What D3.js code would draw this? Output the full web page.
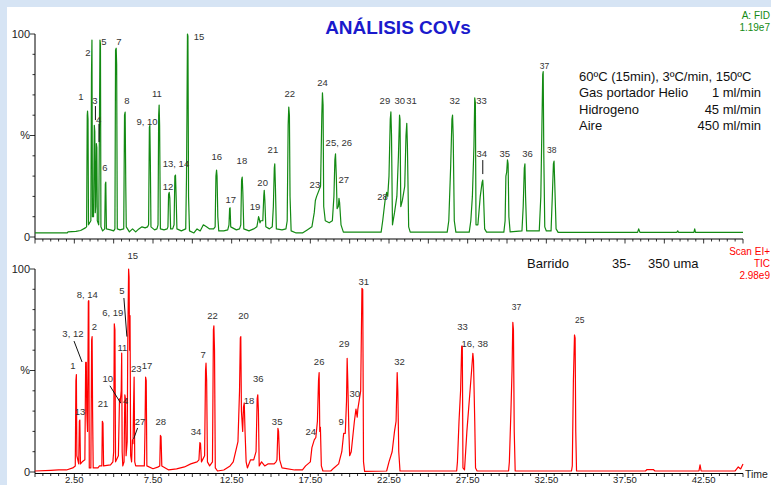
<!DOCTYPE html>
<html><head><meta charset="utf-8">
<script src="https://cdn.jsdelivr.net/npm/d3@7"></script>
<style>
html,body{margin:0;padding:0;background:#d6e4f4;}
svg{display:block;font-family:"Liberation Sans",Arial,sans-serif;}
</style></head>
<body>
<svg id="c" width="771" height="485"></svg>
<script>
// ---- DATA ----
const xTickLabels = ["2.50","7.50","12.50","17.50","22.50","27.50","32.50","37.50","42.50"];
const xTickLabelValues = [2.5,7.5,12.5,17.5,22.5,27.5,32.5,37.5,42.5];

// FID trace [time (min), %]
const fidTrace = [
[0,2],[2.05,2],[2.1,2.5],[2.6,2.8],[2.9,3.2],[3.2,4.5],
[3.28,5],[3.32,60],[3.34,62],[3.37,58],[3.40,6],
[3.55,8],[3.59,80],[3.62,97],[3.65,10],
[3.72,10],[3.77,55],[3.80,52],[3.83,12],
[3.86,15],[3.90,46],[3.93,44],[3.96,8],
[4.05,6],[4.10,60],[4.13,97],[4.16,95],[4.19,5],
[4.3,3],[4.43,4],[4.47,26],[4.50,27],[4.54,4],
[4.8,3.5],[5.0,3],
[5.08,4],[5.12,92],[5.16,93],[5.19,85],[5.23,4],
[5.4,3.5],[5.64,4],[5.69,60],[5.73,61.5],[5.77,25],[5.80,5],
[6.0,2.5],[6.2,4],[6.4,2.5],[6.6,4],[6.8,5],[7.0,4.5],[7.15,5],
[7.22,6],[7.27,54],[7.30,55],[7.33,38],[7.37,5],
[7.6,3.5],[7.75,4],[7.82,6],[7.86,60],[7.89,65],[7.92,55],[7.97,4],
[8.2,3.5],[8.4,4],[8.45,5],[8.49,21],[8.53,22],[8.57,19],[8.62,4],
[8.75,4],[8.84,6],[8.89,30],[8.93,30.5],[8.97,20],[9.02,4],
[9.3,3],[9.58,4],[9.63,30],[9.66,62],[9.69,100],[9.72,99],[9.76,20],[9.82,3],
[10.1,2],[10.3,4],[10.5,3],[10.7,6],[10.9,5],[11.1,4],[11.35,4],
[11.45,5],[11.50,30],[11.54,33],[11.57,30],[11.62,10],[11.68,3],
[12.0,3],[12.25,3.5],[12.33,6],[12.37,14],[12.40,14.4],[12.44,5],
[12.8,3.5],[13.0,4],[13.08,6],[13.13,28],[13.17,29.5],[13.21,22],[13.27,4],
[13.6,3],[13.9,4],[14.1,5],[14.17,8],[14.21,10],[14.25,9],[14.3,7],[14.35,8],
[14.48,8],[14.54,20],[14.57,23],[14.61,18],[14.67,5],
[14.9,4],[15.08,5],[15.15,15],[15.21,34],[15.24,36],[15.28,25],[15.34,4],
[15.7,3.5],[15.95,4],[16.03,8],[16.09,55],[16.13,64],[16.17,60],[16.21,20],[16.28,3],
[16.6,2],[17.0,2],[17.3,3.5],[17.6,5],[17.75,12],[17.82,18],[17.9,20],
[18.15,25],[18.23,60],[18.27,71],[18.31,65],[18.35,15],[18.45,8],[18.7,7],[18.9,8],
[19.0,20],[19.06,38],[19.10,41],[19.15,30],[19.2,14],
[19.28,15],[19.32,19],[19.36,17],[19.45,6],[19.6,2.4],
[22.0,2.4],[22.1,8],[22.25,18],[22.35,22],[22.42,20],
[22.5,30],[22.58,58],[22.62,61.6],[22.66,50],[22.72,6],
[22.85,12],[23.0,20],[23.1,40],[23.17,60],[23.2,58],[23.25,15],
[23.35,18],[23.5,25],[23.58,50],[23.63,56],[23.67,45],[23.75,5],[23.85,2.4],
[26.2,2.4],[26.3,8],[26.42,35],[26.5,58],[26.54,60],[26.58,50],[26.65,8],[26.75,2.4],
[27.6,2.4],[27.7,8],[27.8,20],[27.9,45],[27.95,68.5],[27.99,66],[28.03,6],[28.15,6],
[28.3,20],[28.42,27],[28.46,28],[28.5,22],[28.58,4],[28.7,2.4],
[29.8,2.4],[29.88,8],[29.93,30],[29.98,32],[30.03,38],[30.07,36],[30.12,10],[30.2,2.5],
[30.95,3],[31.03,15],[31.10,34],[31.14,36],[31.18,20],[31.25,3],
[32.05,3],[32.15,20],[32.22,55],[32.27,80],[32.30,81.5],[32.34,40],[32.4,5],[32.5,3],
[32.8,3],[32.88,20],[32.95,36],[32.99,37.4],[33.04,25],[33.12,4],[33.25,2.3],
[38.3,2.3],[38.37,4],[38.45,2.3],[40.8,2.3],[40.85,3],[40.9,2.3],
[41.88,2.3],[41.93,4],[41.98,2.3],[45,2.3]
];

// TIC trace [time (min), %]
const ticTrace = [
[0,0.5],[1.0,0.8],[1.5,1],[2.0,1],[2.4,2],[2.56,3],
[2.60,45],[2.63,48],[2.66,8],[2.78,4],[2.82,25],[2.85,25.6],[2.89,4],[3.0,5],
[3.17,6],[3.22,54],[3.26,54],[3.29,30],[3.34,20],[3.39,84],[3.42,84.4],[3.45,2],
[3.55,2],[3.60,65],[3.63,66.7],[3.66,30],[3.70,2],
[4.0,2],[4.1,3],[4.25,3],[4.28,25],[4.32,24],[4.36,3],
[4.8,3.5],[4.95,5],[5.0,10],[5.04,73],[5.08,70],[5.12,5],
[5.3,8],[5.37,36],[5.41,34],[5.48,40],[5.51,58.6],[5.54,10],[5.58,3],
[5.66,5],[5.71,38],[5.75,36],[5.79,8],
[5.86,15],[5.90,66],[5.95,100],[5.98,96],[6.01,60],[6.04,77],[6.08,8],
[6.14,5],[6.19,15.8],[6.23,14],[6.26,30],[6.30,46.8],[6.34,5],[6.4,3],
[6.95,3],[6.99,20],[7.03,46.8],[7.07,45],[7.11,3],
[7.5,1.6],[7.8,2.4],[7.93,3],[7.97,18],[8.01,17.5],[8.06,3],
[8.5,1],[9.0,1.5],[9.5,2.5],[9.9,4],[10.3,5],
[10.42,6],[10.48,14.5],[10.52,14],[10.58,5],
[10.78,8],[10.84,50],[10.87,53.6],[10.91,45],[10.96,5],[11.1,3],
[11.28,5],[11.34,70],[11.37,72],[11.41,60],[11.46,2],
[11.6,0.5],[12.0,1],[12.4,3],[12.6,5],
[12.9,15],[13.0,40],[13.05,66],[13.08,66.7],[13.12,30],
[13.2,20],[13.25,32],[13.30,34],[13.35,20],[13.42,5],[13.5,2],[13.7,6],[13.9,6],
[14.05,10],[14.12,36],[14.16,38],[14.2,30],[14.25,3],
[14.4,5],[14.6,3],[14.8,4],[15.2,4],[15.32,5],
[15.38,6],[15.44,21.5],[15.48,20],[15.55,6],[15.7,2],
[16.5,1],[17.0,1],[17.2,3],[17.5,5],[17.6,12],[17.75,15.8],[17.85,17],
[17.95,25],[18.02,45],[18.06,49],[18.10,20],[18.14,22],[18.2,3],[18.3,0.5],
[18.8,0.5],[19.0,2],[19.3,4],[19.5,10],[19.62,19],[19.72,19],
[19.80,35],[19.84,56],[19.88,45],[19.95,20],[20.0,8],[20.1,10],
[20.3,25],[20.4,31],[20.48,27],[20.52,31],
[20.7,40],[20.78,90.5],[20.83,90],[20.88,5],[20.95,0.3],
[22.35,0.5],[22.5,5],[22.7,10],[22.85,20],
[22.95,25],[23.02,49],[23.06,40],[23.12,10],[23.2,0.5],
[26.8,0.5],[26.85,5],[26.95,25],[27.05,40],[27.12,62],[27.16,62],[27.2,2],[27.3,1],
[27.45,20],[27.6,35],[27.75,50],[27.83,58.5],[27.87,55],[27.95,25],[28.0,2],[28.1,0.5],
[30.1,0.5],[30.15,5],[30.25,30],[30.32,50],[30.37,73.7],[30.41,70],[30.46,20],[30.52,0.5],
[34.1,0.5],[34.15,3],[34.22,45],[34.29,67.5],[34.33,66],[34.37,20],[34.42,0.5],
[38.8,0.5],[38.9,1.2],[39.3,1.2],[39.4,0.5],[42.2,0.5],[42.27,3.5],[42.34,0.5],
[44.5,0.5],[44.7,2.5],[44.85,1.5],[45,4]
];

// peak labels [text, time, %]  (label centre)
const fidLabels = [
["1",2.92,69],["2",3.37,91],["3",3.81,67],["4",4.05,58],["5",4.38,96],["6",4.45,34],
["7",5.34,96],["8",5.84,67],["9, 10",7.12,56.7],["11",7.75,70.4],["12",8.45,25],
["13, 14",8.96,36],["15",10.42,98.5],["16",11.56,39.4],["17",12.45,18.2],["18",13.15,37.4],
["19",13.98,14.8],["20",14.47,27],["21",15.12,42.9],["22",16.2,70.4],["23",17.79,26],
["24",18.28,75.9],["25, 26",19.31,46.3],["27",19.63,28],["28",22.09,19.7],["29",22.24,67],
["30",23.19,67],["31",23.93,67],["32",26.68,67],["33",28.38,67],["34",28.4,40.9],
["35",29.86,40.9],["36",31.3,40.9]
];
const fidLabelsSmall = [["37",32.38,84.2],["38",32.85,42.9]];
const fidLeaders = [[3.84,64.5,3.84,57.6],[4.07,55.7,4.07,46.8],[28.46,37.9,28.46,31]];

const ticLabels = [
["1",2.41,52.2],["13",2.86,29.7],["3, 12",2.41,68],["8, 14",3.32,87.2],["2",3.77,71.4],
["21",4.32,33.5],["6, 19",4.94,78.5],["10",4.62,46],["11",5.55,61],["4",5.76,35],
["5",5.53,89.2],["15",6.21,106.5],["27",6.67,24.6],["23",6.44,50.7],["17",7.12,52.2],
["28",8.0,24.6],["34",10.23,19.7],["7",10.69,57.6],["22",11.29,76.8],["20",13.26,76.8],
["18",13.6,35],["36",14.19,45.8],["35",15.39,24.6],["24",17.53,19.7],["26",18.06,54.2],
["9",19.46,24.6],["29",19.65,63],["30",20.33,38.4],["31",20.9,94],["32",23.17,54.2],
["33",27.17,71.4],["16, 38",27.95,63]
];
const ticLabelsSmall = [["37",30.6,81.4],["25",34.63,74.9]];
const ticLeaders = [[2.48,64.5,2.99,54.2],[4.76,42.5,5.44,34],[5.65,85.7,5.84,66.7],[6.52,21.7,6.27,16.3]];

const conditions = [
["60ºC (15min), 3ºC/min, 150ºC",""],
["Gas portador Helio","1 ml/min"],
["Hidrogeno","45 ml/min"],
["Aire","450 ml/min"]
];

// ---- DRAW ----
const svg = d3.select("#c");
svg.append("rect").attr("x",7).attr("y",7).attr("width",771).attr("height",485).attr("fill","#fff");

const x = d3.scaleLinear().domain([0,45]).range([35,743]);
const GREEN = "#138a13", RED = "#ff0000", TXT = "#333";

function panel(y0, y100, axisY, majorLen, trace, color, labels, small, leaders){
  const y = d3.scaleLinear().domain([0,100]).range([y0,y100]);
  const g = svg.append("g");
  g.append("line").attr("x1",x(0)).attr("x2",x(45)).attr("y1",axisY).attr("y2",axisY).attr("stroke","#000");
  const minor = d3.range(0,45.01,0.5);
  g.selectAll(null).data(minor).join("line")
    .attr("x1",d=>x(d)).attr("x2",d=>x(d)).attr("y1",axisY)
    .attr("y2",d=> (Math.abs(d/2.5-Math.round(d/2.5))<1e-6)? axisY+majorLen : axisY+2.5)
    .attr("stroke","#000").attr("stroke-width",0.8);
  g.append("line").attr("x1",x(0)).attr("x2",x(0)).attr("y1",y(100)).attr("y2",axisY).attr("stroke","#000");
  g.selectAll(null).data(d3.range(0,101,10)).join("line")
    .attr("x1",d=> (d%50===0)? x(0)-5 : x(0)-2.5).attr("x2",x(0)).attr("y1",d=>y(d)).attr("y2",d=>y(d))
    .attr("stroke","#000").attr("stroke-width",0.8);
  g.selectAll(null).data([[0,"0"],[50,"%"],[100,"100"]]).join("text")
    .attr("x",x(0)-5).attr("y",d=>y(d[0])).attr("dy","0.35em").attr("text-anchor","end")
    .attr("font-size",11).attr("fill","#222").text(d=>d[1]);
  const line = d3.line().x(d=>x(d[0])).y(d=>y(d[1]));
  g.append("path").datum(trace).attr("d",line).attr("fill","none").attr("stroke",color)
    .attr("stroke-width",1.2).attr("stroke-linejoin","round");
  g.selectAll(null).data(labels).join("text")
    .attr("x",d=>x(d[1])).attr("y",d=>y(d[2])).attr("dy","0.35em").attr("text-anchor","middle")
    .attr("font-size",9.5).attr("fill",TXT).text(d=>d[0]);
  g.selectAll(null).data(small).join("text")
    .attr("x",d=>x(d[1])).attr("y",d=>y(d[2])).attr("dy","0.35em").attr("text-anchor","middle")
    .attr("font-size",8.5).attr("fill",TXT).text(d=>d[0]);
  g.selectAll(null).data(leaders).join("line")
    .attr("x1",d=>x(d[0])).attr("y1",d=>y(d[1])).attr("x2",d=>x(d[2])).attr("y2",d=>y(d[3]))
    .attr("stroke","#111").attr("stroke-width",1);
  return y;
}

panel(237,34,239,4.5,fidTrace,GREEN,fidLabels,fidLabelsSmall,fidLeaders);
panel(472,269,473.5,3.5,ticTrace,RED,ticLabels,ticLabelsSmall,ticLeaders);

// bottom tick labels
svg.selectAll(null).data(xTickLabelValues).join("text")
  .attr("x",d=>x(d)).attr("y",483).attr("text-anchor","middle").attr("font-size",9.5).attr("fill","#222")
  .text((d,i)=>xTickLabels[i]);
svg.append("text").attr("x",745).attr("y",477.5).attr("font-size",10.5).attr("fill","#222").text("Time");

// title
svg.append("text").attr("x",398).attr("y",34).attr("text-anchor","middle").attr("font-size",19)
  .attr("font-weight","bold").attr("fill","#1a1acc").text("ANÁLISIS COVs");

// detector labels
const det = svg.append("g").attr("font-size",10).attr("text-anchor","end");
det.append("text").attr("x",770).attr("y",19).attr("fill",GREEN).text("A: FID");
det.append("text").attr("x",770).attr("y",31).attr("fill",GREEN).text("1.19e7");
det.append("text").attr("x",770).attr("y",255).attr("fill",RED).text("Scan EI+");
det.append("text").attr("x",770).attr("y",267).attr("fill",RED).text("TIC");
det.append("text").attr("x",770).attr("y",279).attr("fill",RED).text("2.98e9");

// conditions
const cond = svg.append("g").attr("font-size",13).attr("fill","#111");
conditions.forEach((c,i)=>{
  cond.append("text").attr("x",579).attr("y",81+i*16.3).text(c[0]);
  if(c[1]) cond.append("text").attr("x",761).attr("y",81+i*16.3).attr("text-anchor","end").text(c[1]);
});
const scan = svg.append("g").attr("font-size",13).attr("fill","#111");
scan.append("text").attr("x",527).attr("y",268).text("Barrido");
scan.append("text").attr("x",612).attr("y",268).text("35-");
scan.append("text").attr("x",648).attr("y",268).text("350 uma");
</script>
</body></html>
